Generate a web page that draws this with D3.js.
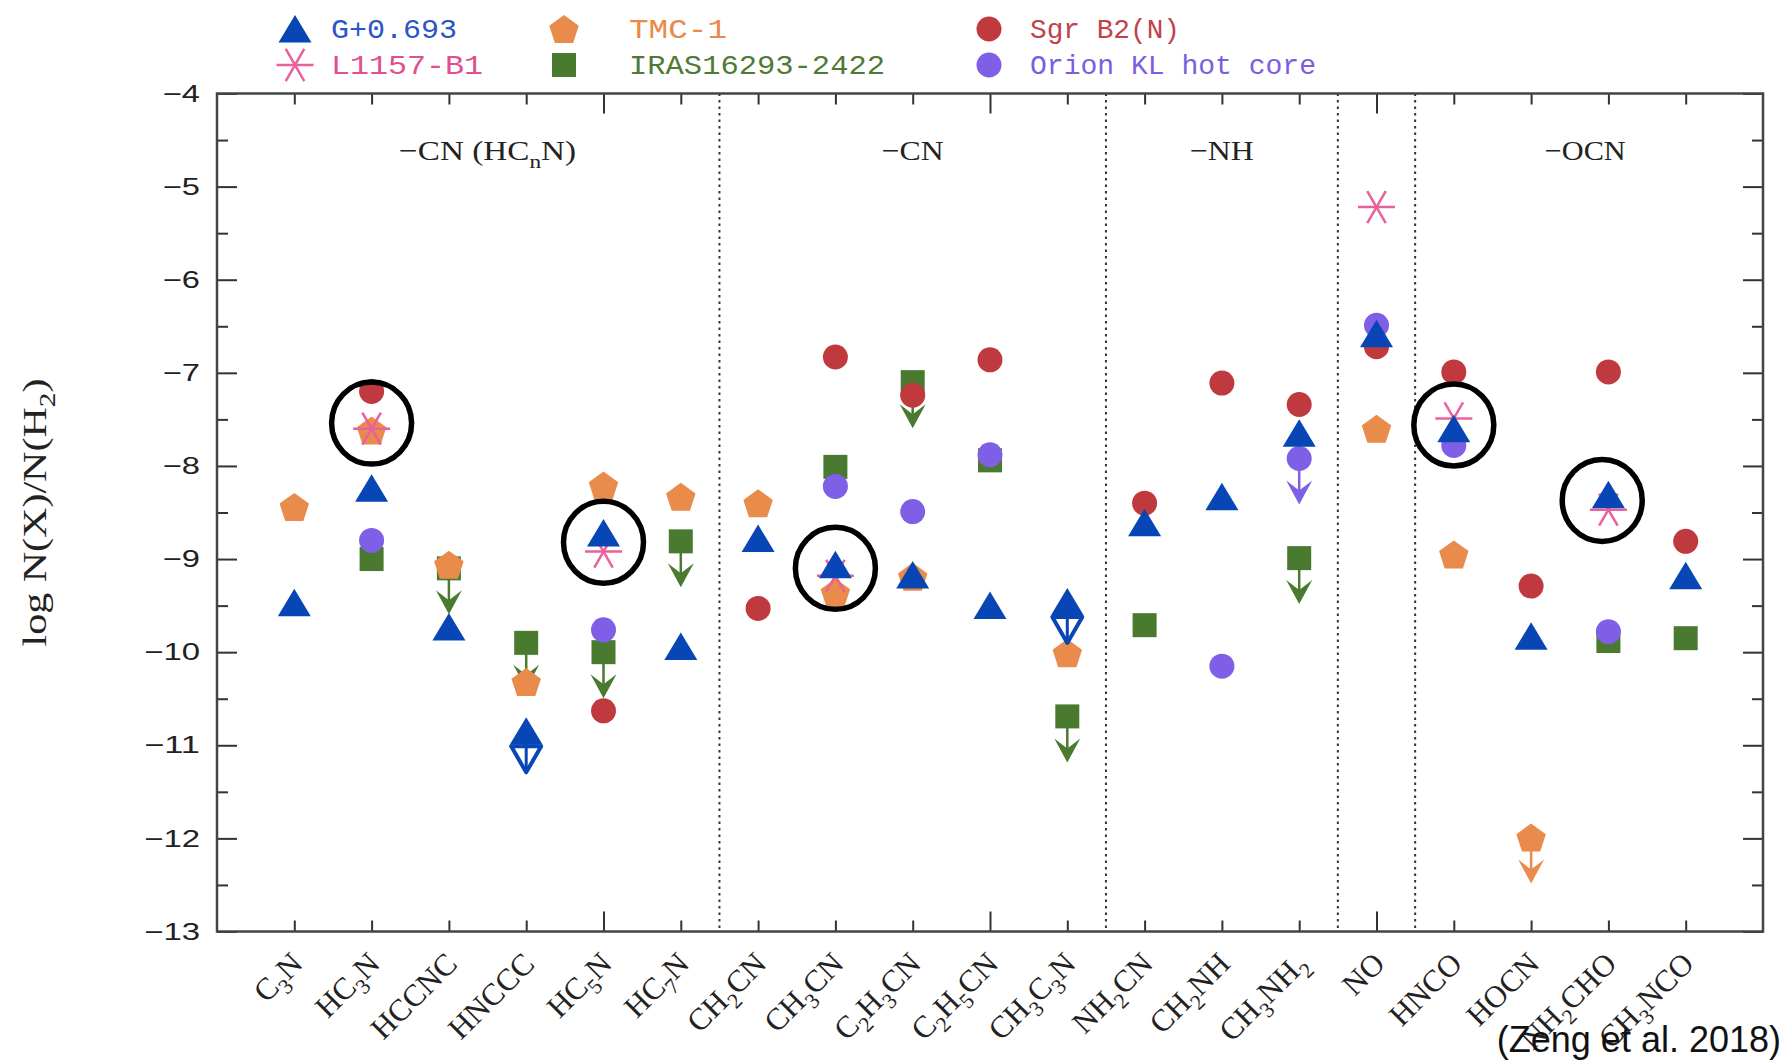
<!DOCTYPE html>
<html>
<head>
<meta charset="utf-8">
<script src="https://cdn.jsdelivr.net/npm/d3@7"></script>
<style>
  body { margin: 0; background: #fff; }
</style>
</head>
<body>
<div class="chart"></div>
<script>
// molecules along the x axis (digits become subscripts)
const molecules = ["C3N", "HC3N", "HCCNC", "HNCCC", "HC5N", "HC7N", "CH2CN", "CH3CN", "C2H3CN",
  "C2H5CN", "CH3C3N", "NH2CN", "CH2NH", "CH3NH2", "NO", "HNCO", "HOCN", "NH2CHO", "CH3NCO"]

// log N(X)/N(H2) per source, null = not observed
const g0693 = [-9.47, -8.24, -9.73, -10.85, -8.72, -9.94, -8.78, -9.06, -9.17, -9.50, -9.46, -8.61, -8.33, -7.65, -6.58, -7.60, -9.83, -8.31, -9.18]
const tmc1 = [-8.44, -7.62, -9.06, -10.32, -8.21, -8.33, -8.40, -9.36, -9.19, null, -10.01, null, null, null, -7.60, -8.95, -11.99, null, null]
const sgrB2 = [null, -7.20, null, null, -10.63, null, -9.53, -6.83, -7.24, -6.86, null, -8.40, -7.11, -7.34, -6.72, -6.99, -9.29, -6.99, -8.81]
const l1157 = [null, -7.60, null, null, -8.92, null, null, -9.18, null, null, null, null, null, null, -5.22, -7.49, null, -8.47, null]
const iras = [null, -9.00, -9.10, -9.90, -10.00, -8.81, null, -8.01, -7.10, -7.94, -10.69, -9.71, null, -8.99, null, null, null, -9.88, -9.85]
const orion = [null, -8.80, null, null, -9.76, null, null, -8.22, -8.49, -7.88, null, null, -10.15, -7.92, -6.49, -7.78, null, -9.78, null]

// upper limits (drawn with a down arrow)
const g0693Limits = ["HNCCC", "CH3C3N"]
const tmc1Limits = ["HOCN"]
const sgrB2Limits = []
const l1157Limits = []
const irasLimits = ["HCCNC", "HNCCC", "HC5N", "HC7N", "C2H3CN", "CH3C3N", "CH3NH2"]
const orionLimits = ["CH3NH2"]

const groupNames = ["−CN (HC_nN)", "−CN", "−NH", "−OCN"]
const groupCenters = [3.5, 9, 13, 17.7]
const separators = [6.5, 11.5, 14.5, 15.5]
const yTicks = [-13, -12, -11, -10, -9, -8, -7, -6, -5, -4]
const yMinor = [-12.5, -11.5, -10.5, -9.5, -8.5, -7.5, -6.5, -5.5, -4.5]

// circled detections
const circled = ["HC3N", "HC5N", "CH3CN", "HNCO", "NH2CHO"]
const circledValues = [-7.54, -8.82, -9.10, -7.56, -8.37]
const circledShift = [0, 0, 0, 0, -0.08]

const width = 1791, height = 1060
const margin = ({top: 93.5, right: 28, bottom: 128.5, left: 217})

const svg = d3.select(".chart").append("svg")
  .attr("width", width)
  .attr("height", height)

const x = d3.scaleLinear().domain([0, 20]).range([margin.left, width - margin.right])
const y = d3.scaleLinear().domain([-13, -4]).range([height - margin.bottom, margin.top])
const pos = name => molecules.indexOf(name) + 1

const sources = [
  {name: "IRAS16293-2422", values: iras, limits: irasLimits, shape: "square", color: "#4a7a2f", text: "#4f7a35"},
  {name: "Sgr B2(N)", values: sgrB2, limits: sgrB2Limits, shape: "circle", color: "#c0393f", text: "#c0424a"},
  {name: "Orion KL hot core", values: orion, limits: orionLimits, shape: "circle", color: "#7f5fe6", text: "#7b5ee0"},
  {name: "TMC-1", values: tmc1, limits: tmc1Limits, shape: "pentagon", color: "#e98b4b", text: "#e8894a"},
  {name: "L1157-B1", values: l1157, limits: l1157Limits, shape: "asterisk", color: "#e8609c", text: "#e0508e"},
  {name: "G+0.693", values: g0693, limits: g0693Limits, shape: "triangle", color: "#0846b6", text: "#2a56c6"}
]

function marker(g, shape, color) {
  if (shape == "circle") {
    g.append("circle").attr("r", 12.5).attr("fill", color)
  } else if (shape == "square") {
    g.append("rect").attr("x", -12).attr("y", -12).attr("width", 24).attr("height", 24).attr("fill", color)
  } else if (shape == "triangle") {
    g.append("path").attr("d", "M0,-14L16.5,13.5L-16.5,13.5Z").attr("fill", color)
  } else if (shape == "pentagon") {
    const pts = d3.range(5).map(k => {
      const a = (-90 + k * 72) * Math.PI / 180
      return [15.5 * Math.cos(a), 15.5 * Math.sin(a) + 1.5]
    })
    g.append("path").attr("d", "M" + pts.join("L") + "Z").attr("fill", color)
  } else if (shape == "asterisk") {
    [0, 60, 120].forEach(a => {
      const r = a * Math.PI / 180
      g.append("line")
        .attr("x1", -18.5 * Math.cos(r)).attr("y1", -18.5 * Math.sin(r))
        .attr("x2", 18.5 * Math.cos(r)).attr("y2", 18.5 * Math.sin(r))
        .attr("stroke", color).attr("stroke-width", 2.5)
    })
  }
}

function arrow(g, shape, color) {
  if (shape == "triangle") {
    // hollow head for G+0.693
    g.append("path").attr("d", "M0,41L-15,15L15,15Z")
      .attr("fill", "white").attr("stroke", color).attr("stroke-width", 4).attr("stroke-linejoin", "round")
    g.append("line").attr("x1", 0).attr("y1", 0).attr("x2", 0).attr("y2", 41)
      .attr("stroke", color).attr("stroke-width", 3)
  } else {
    g.append("line").attr("x1", 0).attr("y1", 0).attr("x2", 0).attr("y2", 40)
      .attr("stroke", color).attr("stroke-width", 2.5)
    g.append("path").attr("d", "M0,46L-13,22L0,32L13,22Z").attr("fill", color)
  }
}

// text with subscripts: digits in molecule names, "_x" elsewhere
function subText(t, str, size, auto) {
  const parts = []
  for (let i = 0; i < str.length; i++) {
    let c = str[i], sub = false
    if (!auto && c == "_") { c = str[++i]; sub = true }
    if (auto && /[0-9]/.test(c)) sub = true
    parts.push({c: c, sub: sub})
  }
  let low = false
  parts.forEach(p => {
    const ts = t.append("tspan").text(p.c)
    if (p.sub) {
      ts.attr("font-size", size * 0.7)
      if (!low) ts.attr("dy", size * 0.28)
      low = true
    } else if (low) {
      ts.attr("dy", -size * 0.28)
      low = false
    }
  })
}

// separators
svg.append("g")
  .selectAll("line")
  .data(separators)
  .enter()
  .append("line")
  .attr("x1", d => x(d)).attr("x2", d => x(d))
  .attr("y1", y(-4)).attr("y2", y(-13))
  .attr("stroke", "#333")
  .attr("stroke-width", 2)
  .attr("stroke-dasharray", "2.5,4")

// ticks
const axisColor = "#333"
function tickAxis(axis, transform) {
  const g = svg.append("g").attr("transform", transform).call(axis)
  g.select(".domain").remove()
  g.selectAll(".tick line").attr("stroke", axisColor).attr("stroke-width", 2)
  return g
}
const minorX = d3.range(1, 20).filter(d => d % 5 != 0)
const majorX = [5, 10, 15]
tickAxis(d3.axisBottom(x).tickValues(minorX).tickSize(-11).tickFormat(""), `translate(0,${y(-13)})`)
tickAxis(d3.axisBottom(x).tickValues(majorX).tickSize(-20).tickFormat(""), `translate(0,${y(-13)})`)
tickAxis(d3.axisTop(x).tickValues(minorX).tickSize(-11).tickFormat(""), `translate(0,${y(-4)})`)
tickAxis(d3.axisTop(x).tickValues(majorX).tickSize(-20).tickFormat(""), `translate(0,${y(-4)})`)

const yAxisGroup = tickAxis(d3.axisLeft(y).tickValues(yTicks).tickSize(-20).tickPadding(17)
  .tickFormat(d => "−" + Math.abs(d)), `translate(${x(0)},0)`)
yAxisGroup.selectAll("text")
  .attr("font-family", "'Liberation Sans', Arial, sans-serif")
  .attr("font-size", 24)
  .attr("fill", "#222")
  .attr("textLength", function() { return 18.6 * this.textContent.length })
  .attr("lengthAdjust", "spacingAndGlyphs")
tickAxis(d3.axisLeft(y).tickValues(yMinor).tickSize(-11).tickFormat(""), `translate(${x(0)},0)`)
tickAxis(d3.axisRight(y).tickValues(yTicks).tickSize(-20).tickFormat(""), `translate(${x(20)},0)`)
tickAxis(d3.axisRight(y).tickValues(yMinor).tickSize(-11).tickFormat(""), `translate(${x(20)},0)`)

// frame
svg.append("rect")
  .attr("x", x(0)).attr("y", y(-4))
  .attr("width", x(20) - x(0)).attr("height", y(-13) - y(-4))
  .attr("fill", "none")
  .attr("stroke", "#444")
  .attr("stroke-width", 2.5)

// group labels
const groupWidths = [177, 62, 64, 81]
groupNames.forEach((name, i) => {
  const t = svg.append("text")
    .attr("x", x(groupCenters[i]))
    .attr("y", 160)
    .attr("text-anchor", "middle")
    .attr("font-family", "'Liberation Serif', 'Times New Roman', serif")
    .attr("font-size", 28)
    .attr("fill", "#222")
    .attr("textLength", groupWidths[i])
    .attr("lengthAdjust", "spacingAndGlyphs")
  subText(t, name, 28, false)
})

// x labels
molecules.forEach((m, i) => {
  const t = svg.append("text")
    .attr("transform", `translate(${x(i + 1) + 10},${y(-13) + 34}) rotate(-45)`)
    .attr("text-anchor", "end")
    .attr("font-family", "'Liberation Serif', 'Times New Roman', serif")
    .attr("font-size", 31)
    .attr("fill", "#222")
  subText(t, m, 31, true)
})

// points
sources.forEach(s => {
  const pts = s.values.map((v, i) => ({cat: molecules[i], v: v})).filter(d => d.v !== null)
  const g = svg.append("g")
  pts.forEach(d => {
    const p = g.append("g").attr("transform", `translate(${x(pos(d.cat))},${y(d.v)})`)
    if (s.limits.includes(d.cat) && s.shape != "triangle") arrow(p, s.shape, s.color)
    marker(p, s.shape, s.color)
    if (s.limits.includes(d.cat) && s.shape == "triangle") arrow(p, s.shape, s.color)
  })
})

// circled detections
svg.append("g")
  .selectAll("ellipse")
  .data(circled)
  .enter()
  .append("ellipse")
  .attr("cx", (d, i) => x(pos(d) + circledShift[i]))
  .attr("cy", (d, i) => y(circledValues[i]))
  .attr("rx", 40)
  .attr("ry", 41)
  .attr("fill", "none")
  .attr("stroke", "black")
  .attr("stroke-width", 5.5)

// legend
const legendOrder = ["G+0.693", "TMC-1", "Sgr B2(N)", "L1157-B1", "IRAS16293-2422", "Orion KL hot core"]
const legendWidths = [126, 98, 150, 152, 256, 286]
const colSymbol = [295, 564, 989], colText = [331, 629, 1030], rowY = [29, 65]
legendOrder.forEach((name, i) => {
  const s = sources.find(d => d.name == name)
  const col = i % 3, row = Math.floor(i / 3)
  const g = svg.append("g").attr("transform", `translate(${colSymbol[col]},${rowY[row]})`)
  marker(g, s.shape, s.color)
  svg.append("text")
    .attr("x", colText[col])
    .attr("y", rowY[row] + 9)
    .attr("font-family", "'Liberation Mono', 'Courier New', monospace")
    .attr("font-size", 27)
    .attr("fill", s.text)
    .attr("textLength", legendWidths[i])
    .attr("lengthAdjust", "spacingAndGlyphs")
    .text(name)
})

// y title
const yTitle = svg.append("text")
  .attr("transform", `translate(46,${(y(-4) + y(-13)) / 2}) rotate(-90)`)
  .attr("text-anchor", "middle")
  .attr("font-family", "'Liberation Serif', 'Times New Roman', serif")
  .attr("font-size", 33)
  .attr("fill", "#222")
  .attr("textLength", 268)
  .attr("lengthAdjust", "spacingAndGlyphs")
subText(yTitle, "log N(X)/N(H_2)", 33, false)

svg.append("text")
  .attr("x", 1781)
  .attr("y", 1052)
  .attr("text-anchor", "end")
  .attr("font-family", "'Liberation Sans', Arial, sans-serif")
  .attr("font-size", 36)
  .attr("fill", "#111")
  .text("(Zeng et al. 2018)")
</script>
</body>
</html>
